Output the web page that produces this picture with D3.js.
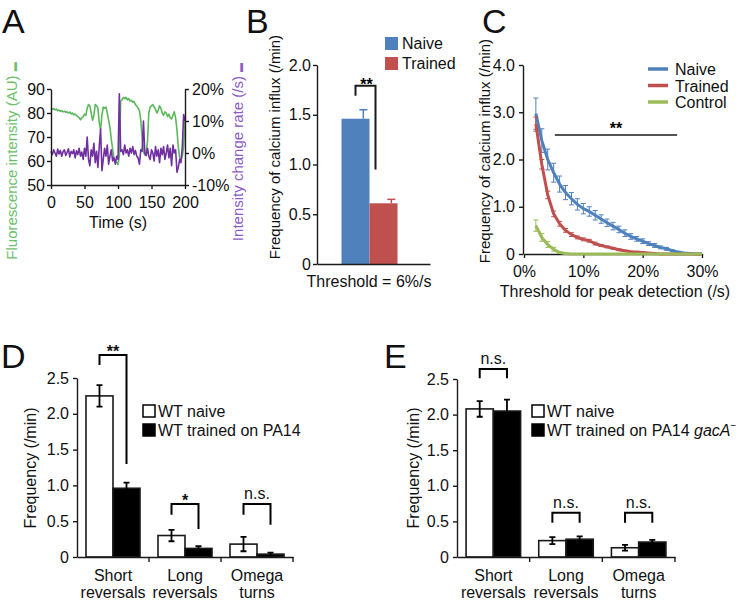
<!DOCTYPE html>
<html><head><meta charset="utf-8">
<script src="https://cdn.jsdelivr.net/npm/d3@7"></script>
<style>
body{margin:0;background:#fff;}
svg{display:block;font-family:"Liberation Sans",Arial,Helvetica,sans-serif;}
</style></head><body>
<svg id="fig" width="746" height="603"></svg>
<script>
// ---------------- DATA ----------------
// Panel A: single-neuron trace
const timeA = [0,2,4,6,8,10,12,14,16,18,20,22,24,26,28,30,32,34,36,38,40,42,44,46,48,50,52,54,56,58,60,62,64,66,68,70,72,74,76,78,80,82,84,86,88,90,92,94,96,98,100,102,104,106,108,110,112,114,116,118,120,122,124,126,128,130,132,134,136,138,140,142,144,146,148,150,152,154,156,158,160,162,164,166,168,170,172,174,176,178,180,182,184,186,188,190,192,194,196,198,200];
const fluorA = [82,81.5,81.8,81.3,81.6,81,81.2,80.7,81,80.5,80.8,80.3,80.5,80,80.4,79.6,80,79.3,79.6,79,78.5,78,77.2,78,78.5,79.5,79,82,83.5,83,80,77,79,83.5,83,82,76,73,79,82.5,82,82.5,80,77,74,69,65,61,60,59.5,58.5,62,85,85.5,86.5,86,86.5,85.5,86,85,85.3,84.5,84.8,83.5,83,82,81,77,70,64,62.5,63.5,68,80,82.5,83,83.5,82.5,81.5,80,81,83,82,80,79,80.5,80,78.5,79.5,78,77.5,79,80.5,78,73,66,61.5,60.5,62,66,78];
const rateA = [0.5,-0.5,1,0,-1,1.2,-0.3,0.8,-1,0.4,1,-0.8,0.2,1.3,-1.2,0.5,-0.2,1,-1.5,0.7,-0.5,1.5,-1,0.3,-2,1.5,-1,5,-2,-4,1,-1,3,-3,0.5,-4.5,2,7.5,-5.5,-2,1.5,-1,2.5,-3.5,-1,1,-2.5,-1.5,-3.5,-1,-2,18.5,0.5,1,-0.5,2.5,0,1,-1,1.5,0,2,-0.5,0.8,-1,-1.5,-3.5,1,0.5,10,0,-0.8,1.5,-1,-2,1,0,-2.5,2,-1,1,-3,1.5,-0.5,2,-2,0,2.5,-1.5,1.5,-4,2.5,0,1,-6,-4.5,-2,-3,2,12,10];
const ticksA_left = [50,60,70,80,90];
const ticksA_right = [-10,0,10,20];
const ticksA_x = [0,50,100,150,200];

// Panel B
const groupsB = ["Naive","Trained"];
const valuesB = [1.46,0.61];
const errorsB = [0.09,0.04];
const ticksB = [0,0.5,1.0,1.5,2.0];

// Panel C
const thresholdsC = [2,3,4,5,6,7,8,9,10,11,12,13,14,15,16,17,18,19,20,21,22,23,24,25,26,27,28,29,30];
const naiveC = [2.97,2.40,2.00,1.72,1.48,1.30,1.17,1.05,0.96,0.90,0.82,0.74,0.66,0.59,0.52,0.44,0.37,0.32,0.27,0.22,0.18,0.14,0.11,0.07,0.04,0.02,0.01,0,0];
const naiveErrC = [0.33,0.25,0.22,0.2,0.17,0.15,0.13,0.12,0.11,0.1,0.1,0.09,0.08,0.08,0.07,0.07,0.06,0.05,0.05,0.04,0.04,0.03,0.03,0.02,0.02,0.01,0.01,0,0];
const trainedC = [2.75,1.90,1.25,0.85,0.64,0.50,0.41,0.35,0.31,0.28,0.22,0.18,0.15,0.12,0.09,0.07,0.05,0.04,0.03,0.02,0.01,0,0,0,0,0,0,0,0];
const trainedErrC = [0.15,0.1,0.08,0.06,0.05,0.04,0.04,0.03,0.03,0.03,0.03,0.02,0.02,0.02,0.02,0.01,0.01,0.01,0.01,0,0,0,0,0,0,0,0,0,0];
const controlC = [0.60,0.35,0.20,0.10,0.03,0.01,0,0,0,0,0,0,0,0,0,0,0,0,0,0,0,0,0,0,0,0,0,0,0];
const controlErrC = [0.12,0.08,0.06,0.04,0.02,0.01,0,0,0,0,0,0,0,0,0,0,0,0,0,0,0,0,0,0,0,0,0,0,0];
const ticksC_y = [0,1,2,3,4];
const ticksC_x = [0,10,20,30];

// Panel D & E
const behaviours = [["Short","reversals"],["Long","reversals"],["Omega","turns"]];
const naiveD = [2.25,0.30,0.18];
const naiveErrD = [0.15,0.08,0.10];
const trainedD = [0.96,0.12,0.04];
const trainedErrD = [0.08,0.03,0.02];
const sigD = ["**","*","n.s."];
const naiveE = [2.08,0.23,0.13];
const naiveErrE = [0.11,0.05,0.04];
const trainedE = [2.05,0.25,0.21];
const trainedErrE = [0.16,0.04,0.03];
const sigE = ["n.s.","n.s.","n.s."];
const ticksDE = [0,0.5,1.0,1.5,2.0,2.5];

// ---------------- DRAWING ----------------
const svg = d3.select("#fig");
const INK = "#1a1a1a";
function styleAxis(g, fs){
  g.attr("font-family", null).attr("font-size", null);
  g.selectAll("path,line").attr("stroke", INK).attr("stroke-width", 1.4);
  g.selectAll("text").attr("font-size", fs).attr("fill", "#111");
}
function letter(t,x,y){ svg.append("text").attr("x",x).attr("y",y).attr("font-size",34).attr("fill","#111").text(t); }
function vlabel(t,x,y,fs,col){
  return svg.append("text").attr("transform",`translate(${x},${y}) rotate(-90)`).attr("text-anchor","middle").attr("font-size",fs).attr("fill",col||"#111").text(t);
}
const fmt1 = d => d===0 ? "0" : d3.format(".1f")(d);

letter("A",2,33); letter("B",246,33); letter("C",482,33); letter("D",1,368); letter("E",384,368);

// ---- Panel A ----
{
  const x = d3.scaleLinear().domain([0,200]).range([51,185]);
  const y = d3.scaleLinear().domain([50,90]).range([185,89]);
  const y2 = d3.scaleLinear().domain([-10,20]).range([185,89]);
  const g = svg.append("g");
  g.append("path").datum(timeA.map((t,i)=>[t,fluorA[i]]))
    .attr("d", d3.line().x(d=>x(d[0])).y(d=>y(d[1])))
    .attr("fill","none").attr("stroke","#5cb85c").attr("stroke-width",1.6).attr("stroke-linejoin","round");
  g.append("path").datum(timeA.map((t,i)=>[t,rateA[i]]))
    .attr("d", d3.line().x(d=>x(d[0])).y(d=>y2(d[1])))
    .attr("fill","none").attr("stroke","#7030a0").attr("stroke-width",1.6).attr("stroke-linejoin","round");
  styleAxis(g.append("g").attr("transform","translate(51,0)").call(d3.axisLeft(y).tickValues(ticksA_left).tickSize(4).tickSizeOuter(0).tickPadding(2)),16);
  styleAxis(g.append("g").attr("transform","translate(185,0)").call(d3.axisRight(y2).tickValues(ticksA_right).tickFormat(d=>d+"%").tickSize(4).tickSizeOuter(0).tickPadding(3)),16);
  styleAxis(g.append("g").attr("transform","translate(0,185)").call(d3.axisBottom(x).tickValues(ticksA_x).tickSize(4).tickSizeOuter(0).tickPadding(8)),16);
  svg.append("text").attr("x",118).attr("y",228).attr("text-anchor","middle").attr("font-size",16).attr("fill","#111").text("Time (s)");
  const l1 = vlabel("Fluorescence intensity (AU) ",17,161,15,"#6cbf6c");
  l1.append("tspan").attr("font-size",9).text("▬");
  const l2 = vlabel("Intensity change rate (/s) ",243,152,15,"#8c5cc4");
  l2.append("tspan").attr("font-size",9).text("▬");
}

// ---- Panel B ----
{
  const colors = ["#4f81bd","#c0504d"];
  const y = d3.scaleLinear().domain([0,2]).range([264,65]);
  const x = d3.scaleBand().domain(groupsB).range([341.5,397.5]).padding(0);
  const g = svg.append("g");
  g.selectAll("rect.bar").data(groupsB).join("rect")
    .attr("x",d=>x(d)).attr("width",x.bandwidth())
    .attr("y",(d,i)=>y(valuesB[i])).attr("height",(d,i)=>y(0)-y(valuesB[i]))
    .attr("fill",(d,i)=>colors[i]);
  const ex = d => x(d)+x.bandwidth()*0.78;
  groupsB.forEach((d,i)=>{
    g.append("line").attr("x1",ex(d)).attr("x2",ex(d)).attr("y1",y(valuesB[i])).attr("y2",y(valuesB[i]+errorsB[i])).attr("stroke",colors[i]).attr("stroke-width",1.5);
    g.append("line").attr("x1",ex(d)-4).attr("x2",ex(d)+4).attr("y1",y(valuesB[i]+errorsB[i])).attr("y2",y(valuesB[i]+errorsB[i])).attr("stroke",colors[i]).attr("stroke-width",1.5);
  });
  styleAxis(g.append("g").attr("transform","translate(317,0)").call(d3.axisLeft(y).tickValues(ticksB).tickFormat(fmt1).tickSize(4).tickSizeOuter(0).tickPadding(2)),16);
  const xl = d3.scaleLinear().range([317,430]);
  styleAxis(g.append("g").attr("transform","translate(0,264)").call(d3.axisBottom(xl).tickValues([]).tickSizeOuter(0)),16);
  // bracket
  const bx1 = x.bandwidth()/2 + x(groupsB[0]), bx2 = x(groupsB[1]) + 6;
  const top = y(1.69)-10;
  g.append("path").attr("d",`M${bx1},${y(1.69)}V${top}H${bx2}V${y(0.95)}`)
    .attr("fill","none").attr("stroke",INK).attr("stroke-width",2);
  g.append("text").attr("x",(bx1+bx2)/2+1).attr("y",top+4).attr("text-anchor","middle").attr("font-size",16).attr("font-weight","bold").text("**");
  // legend
  groupsB.forEach((d,i)=>{
    g.append("rect").attr("x",385).attr("y",37+i*20).attr("width",13).attr("height",13).attr("fill",colors[i]);
    g.append("text").attr("x",402).attr("y",49+i*20).attr("font-size",16).attr("fill","#111").text(d);
  });
  svg.append("text").attr("x",369).attr("y",287).attr("text-anchor","middle").attr("font-size",16).attr("fill","#111").text("Threshold = 6%/s");
  vlabel("Frequency of calcium influx (/min)",280,147,15);
}

// ---- Panel C ----
{
  const x = d3.scaleLinear().domain([0,30]).range([524,702]);
  const y = d3.scaleLinear().domain([0,4]).range([254,65]);
  const g = svg.append("g");
  styleAxis(g.append("g").attr("transform","translate(523,0)").call(d3.axisLeft(y).tickValues(ticksC_y).tickFormat(fmt1).tickSize(4).tickSizeOuter(0).tickPadding(4)),16);
  styleAxis(g.append("g").attr("transform","translate(0,254)").call(d3.axisBottom(x).tickValues(ticksC_x).tickFormat(d=>d+"%").tickSize(4).tickSizeOuter(0).tickPadding(8)),16);
  const series = [
    {name:"Naive", v:naiveC, e:naiveErrC, c:"#4f81bd"},
    {name:"Trained", v:trainedC, e:trainedErrC, c:"#c0504d"},
    {name:"Control", v:controlC, e:controlErrC, c:"#9bbb59"}
  ];
  series.forEach(s=>{
    const sg = g.append("g");
    thresholdsC.forEach((t,i)=>{
      if (s.e[i] <= 0) return;
      const cx = x(t), y1 = y(s.v[i]-s.e[i]), y2 = y(s.v[i]+s.e[i]);
      sg.append("path").attr("d",`M${cx},${Math.min(y1,254)}V${y2}M${cx-2.5},${y2}H${cx+2.5}M${cx-2.5},${Math.min(y1,254)}H${cx+2.5}`)
        .attr("stroke",s.c).attr("stroke-width",1).attr("fill","none");
    });
    sg.append("path").datum(thresholdsC.map((t,i)=>[t,s.v[i]]))
      .attr("d", d3.line().x(d=>x(d[0])).y(d=>y(d[1])))
      .attr("fill","none").attr("stroke",s.c).attr("stroke-width",3).attr("stroke-linejoin","round");
  });
  // significance line
  g.append("line").attr("x1",x(5.2)).attr("x2",x(25.8)).attr("y1",135).attr("y2",135).attr("stroke",INK).attr("stroke-width",1.3);
  g.append("text").attr("x",x(15.5)).attr("y",134).attr("text-anchor","middle").attr("font-size",16).attr("font-weight","bold").text("**");
  // legend
  series.forEach((s,i)=>{
    g.append("line").attr("x1",648).attr("x2",668).attr("y1",69+i*16.5).attr("y2",69+i*16.5).attr("stroke",s.c).attr("stroke-width",3.5);
    g.append("text").attr("x",675).attr("y",75+i*16.5).attr("font-size",16).attr("fill","#111").text(s.name);
  });
  svg.append("text").attr("x",615).attr("y",297).attr("text-anchor","middle").attr("font-size",16).attr("fill","#111").text("Threshold for peak detection (/s)");
  vlabel("Frequency of calcium influx (/min)",490,151,15);
}

// ---- Panels D & E ----
function drawBehaviour(cfg){
  const y = d3.scaleLinear().domain([0,2.5]).range([557,cfg.top]);
  const names = behaviours.map(b=>b.join(" "));
  const x = d3.scaleBand().domain(names).range([cfg.x0,cfg.x1]).padding(0);
  const sub = d3.scaleBand().domain(["naive","trained"]).range([0,x.bandwidth()]).paddingOuter(0.333).paddingInner(0);
  const g = svg.append("g");
  names.forEach((n,i)=>{
    const xw = x(n)+sub("naive"), xb = x(n)+sub("trained"), w = sub.bandwidth();
    g.append("rect").attr("x",xw).attr("width",w).attr("y",y(cfg.naive[i])).attr("height",y(0)-y(cfg.naive[i]))
      .attr("fill","#fff").attr("stroke",INK).attr("stroke-width",1.6);
    g.append("rect").attr("x",xb).attr("width",w).attr("y",y(cfg.trained[i])).attr("height",y(0)-y(cfg.trained[i]))
      .attr("fill","#000").attr("stroke",INK).attr("stroke-width",1.6);
    [[xw+w/2,cfg.naive[i],cfg.naiveErr[i]],[xb+w/2,cfg.trained[i],cfg.trainedErr[i]]].forEach(([cx,v,e])=>{
      const a = y(v+e), b = y(v-e);
      g.append("path").attr("d",`M${cx},${a}V${b}M${cx-3},${a}H${cx+3}M${cx-3},${b}H${cx+3}`)
        .attr("stroke","#000").attr("stroke-width",1.8).attr("fill","none");
    });
    // bracket
    const br = cfg.brackets[i];
    const lx = xw+w/2, rx = xb+w/2, ty = y(br[0]);
    g.append("path").attr("d",`M${lx},${y(br[1])}V${ty}H${rx}V${y(br[2])}`)
      .attr("fill","none").attr("stroke","#000").attr("stroke-width",2);
    const s = cfg.sig[i];
    g.append("text").attr("x",(lx+rx)/2).attr("y", s.startsWith("*") ? ty+2 : ty-5)
      .attr("text-anchor","middle").attr("font-size",16).attr("font-weight", s.startsWith("*")?"bold":"normal").attr("fill","#111").text(s);
    // category label
    const tl = g.append("text").attr("x",x(n)+x.bandwidth()/2).attr("y",581).attr("text-anchor","middle").attr("font-size",16).attr("fill","#111");
    tl.append("tspan").attr("x",x(n)+x.bandwidth()/2).text(behaviours[i][0]);
    tl.append("tspan").attr("x",x(n)+x.bandwidth()/2).attr("dy",17).text(behaviours[i][1]);
  });
  styleAxis(g.append("g").attr("transform",`translate(${cfg.x0},0)`).call(d3.axisLeft(y).tickValues(ticksDE).tickFormat(fmt1).tickSize(4).tickSizeOuter(0).tickPadding(4)),16);
  const xa = d3.scaleLinear().range([cfg.x0,cfg.x1]);
  const ax = g.append("g").attr("transform","translate(0,557)").call(d3.axisBottom(xa).tickValues([]).tickSizeOuter(0));
  styleAxis(ax,16);
  names.forEach(n=>{
    ax.append("line").attr("x1",x(n)+x.bandwidth()).attr("x2",x(n)+x.bandwidth()).attr("y1",0).attr("y2",5).attr("stroke",INK).attr("stroke-width",1.4);
  });
  // legend
  g.append("rect").attr("x",cfg.lx).attr("y",405).attr("width",12).attr("height",12).attr("fill","#fff").attr("stroke","#000").attr("stroke-width",1.5);
  g.append("rect").attr("x",cfg.lx-0.75).attr("y",423.25).attr("width",13.5).attr("height",13.5).attr("fill","#000");
  g.append("text").attr("x",cfg.lx+15).attr("y",417).attr("font-size",16).attr("fill","#111").text("WT naive");
  const t2 = g.append("text").attr("x",cfg.lx+15).attr("y",436).attr("font-size",16).attr("fill","#111").text(cfg.trainedLabel);
  if (cfg.italic){
    t2.append("tspan").attr("font-style","italic").text(cfg.italic);
    t2.append("tspan").attr("font-size",10).attr("dy",-7).text("−");
  }
  vlabel("Frequency (/min)",cfg.ylx,468,16);
}
drawBehaviour({x0:77,x1:293,top:378,naive:naiveD,naiveErr:naiveErrD,trained:trainedD,trainedErr:trainedErrD,sig:sigD,
  brackets:[[2.82,2.68,1.30],[0.74,0.59,0.39],[0.74,0.59,0.45]],lx:143,trainedLabel:"WT trained on PA14",ylx:36});
drawBehaviour({x0:457,x1:675,top:379,naive:naiveE,naiveErr:naiveErrE,trained:trainedE,trainedErr:trainedErrE,sig:sigE,
  brackets:[[2.64,2.51,2.51],[0.62,0.48,0.48],[0.62,0.48,0.48]],lx:532,trainedLabel:"WT trained on PA14 ",italic:"gacA",ylx:419});
</script>
</body></html>
